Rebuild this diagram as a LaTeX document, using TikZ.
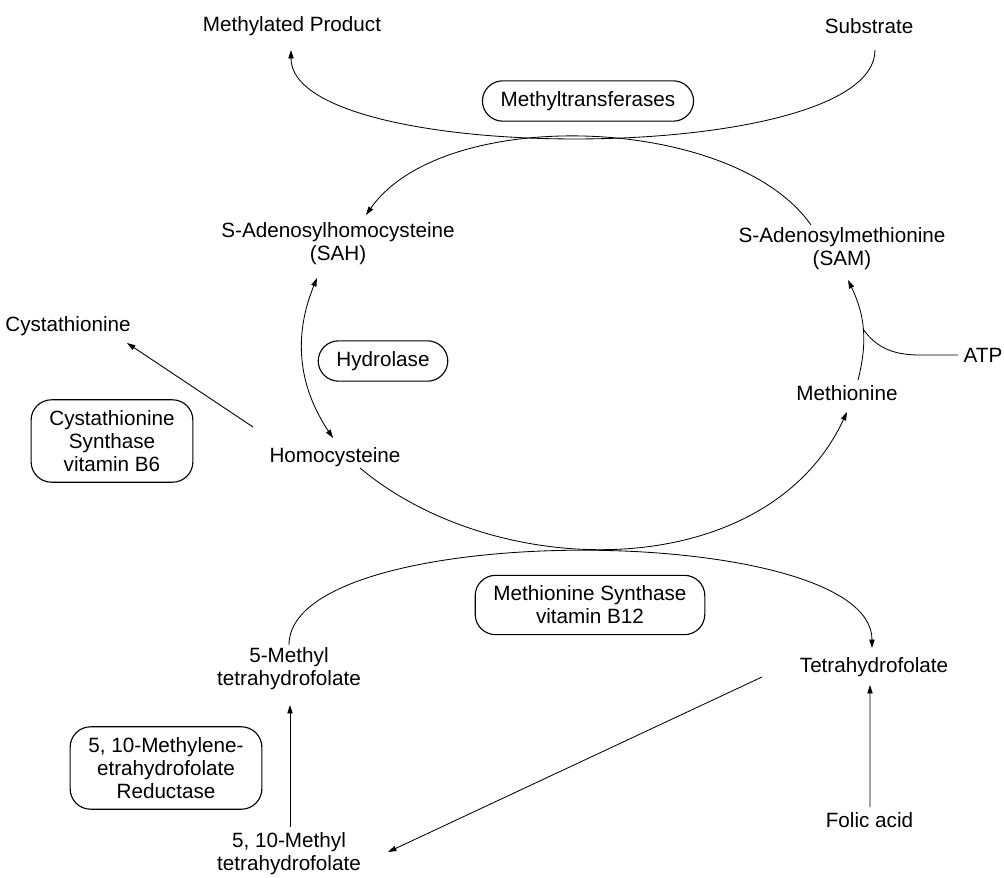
\documentclass[tikz,border=0pt]{standalone}
\usepackage{fontspec}
\setmainfont{Liberation Sans}
\usetikzlibrary{arrows.meta}

\tikzset{
  >={Triangle[length=6pt,width=3.8pt]},
  metab/.style={font=\fontsize{14.7}{16.4}\selectfont, align=center, inner sep=1pt},
  enzyme/.style={metab, draw, line width=0.8pt, rounded corners=14.5pt, inner xsep=13pt, inner ysep=7.5pt},
  flow/.style={line width=0.6pt}
}

\begin{document}
\begin{tikzpicture}[x=0.025cm, y=0.025cm]
  \useasboundingbox (0,0) rectangle (1004,877);

  % --- Methyl transfer ---
  \node[metab] (mprod) at (292,851) {Methylated Product};
  \node[metab] (subs) at (869,851) {Substrate};
  \node[enzyme] (mtrans) at (588,776) {Methyltransferases};
  \node[metab] (sah) at (338,633) {S-Adenosylhomocysteine\\(SAH)};
  \node[metab] (sam) at (842,628) {S-Adenosylmethionine\\(SAM)};

  % --- Methionine cycle ---
  \node[metab] (cysta) at (68,551) {Cystathionine};
  \node[enzyme] (hydro) at (383,516) {Hydrolase};
  \node[metab] (atp) at (983,522) {ATP};
  \node[metab] (meth) at (847,484) {Methionine};
  \node[enzyme] (cbs) at (112,436) {Cystathionine\\Synthase\\vitamin B6};
  \node[metab] (homo) at (335,420) {Homocysteine};

  % --- Folate cycle ---
  \node[enzyme] (msyn) at (590,272) {Methionine Synthase\\vitamin B12};
  \node[metab] (mthf) at (289,208) {5-Methyl\\tetrahydrofolate};
  \node[metab] (thf) at (874,210) {Tetrahydrofolate};
  \node[enzyme] (mthfr) at (166,109) {5, 10-Methylene-\\etrahydrofolate\\Reductase};
  \node[metab] (mlthf) at (289,23) {5, 10-Methyl\\tetrahydrofolate};
  \node[metab] (folic) at (869.5,57) {Folic acid};

  % Connectors
  \draw[flow,->] ([shift={(6,-24)}]subs.center) to[out=-90,in=-90,distance=2.93cm] ([shift={(-1,-24)}]mprod.center);
  \draw[flow,->] ([shift={(-31,24)}]sam.center) to[out=125,in=55,distance=3.375cm] ([shift={(28,29)}]sah.center);
  \draw[flow,<->] ([shift={(-21,-34)}]sah.center) to[bend right=28] ([shift={(-2,19)}]homo.center);
  \draw[flow,->] ([shift={(-82,30)}]homo.center) -- ([shift={(59,-17)}]cysta.center);
  \draw[flow,->] ([shift={(11,13)}]meth.center) to[bend right=20] node[coordinate,pos=0.5] (atpjoin) {} ([shift={(6,-31)}]sam.center);
  \draw[flow] ([shift={(-25,0)}]atp.center) -- ++(-38,0) to[out=180,in=-55] (atpjoin);
  \draw[flow,->] ([shift={(25,-11)}]homo.center) to[out=-40,in=-115,out distance=4.5cm,in distance=4.75cm] ([shift={(0,-19)}]meth.center);
  \draw[flow,->] ([shift={(0,24)}]mthf.center) to[out=90,in=90,distance=3.175cm] ([shift={(-2,19)}]thf.center);
  \draw[flow,->] ([shift={(1,27)}]mlthf.center) -- ([shift={(1,-36)}]mthf.center);
  \draw[flow,->] ([shift={(-112,-10)}]thf.center) -- ([shift={(99,2)}]mlthf.center);
  \draw[flow,->] ([shift={(0.5,13)}]folic.center) -- ([shift={(-4,-18)}]thf.center);
\end{tikzpicture}
\end{document}
